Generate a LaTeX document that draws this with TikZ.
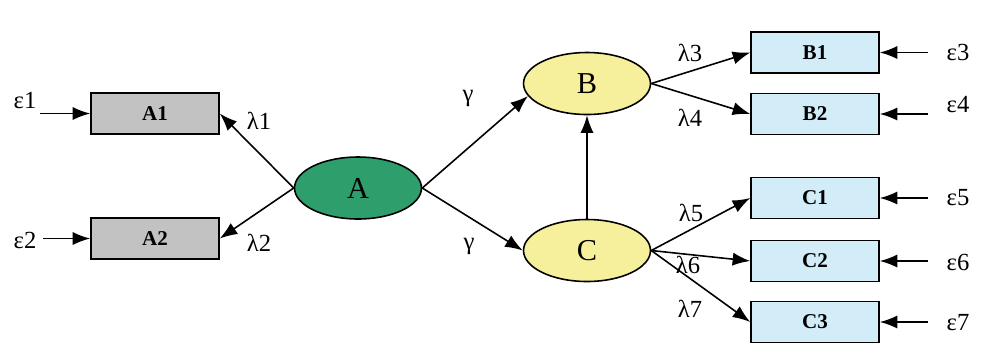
\documentclass[tikz,border=0pt]{standalone}
\usepackage{fontspec}
\setmainfont{Liberation Serif}
\usetikzlibrary{shapes.geometric,arrows.meta}

\definecolor{boxgrey}{HTML}{C2C2C2}
\definecolor{latgreen}{HTML}{2E9E6C}
\definecolor{latyellow}{HTML}{F6F09C}
\definecolor{boxblue}{HTML}{D2EDF7}

\tikzset{
	indicator/.style={draw, line width=0.9pt, minimum width=2.56cm, minimum height=0.82cm, inner sep=0pt, font=\large\bfseries},
	latent/.style={ellipse, draw, line width=0.9pt, minimum width=2.54cm, minimum height=1.24cm, inner sep=0pt, font=\LARGE},
	path/.style={line width=0.9pt, -{Latex[length=10pt,width=7.5pt]}},
	lbl/.style={font=\fontsize{14}{16}\selectfont, inner sep=0pt}
}

\begin{document}
\begin{tikzpicture}[x=0.02cm, y=-0.02cm]
		%%%%% START %%%%%
		\useasboundingbox (0, 0) rectangle (984, 346);
		
		% observed indicators
		\node[indicator, fill=boxgrey] (a1) at (155, 113.5) {A1};
		\node[indicator, fill=boxgrey] (a2) at (155, 238.5) {A2};
		\node[indicator, fill=boxblue] (b1) at (815, 52.5) {B1};
		\node[indicator, fill=boxblue] (b2) at (815, 114) {B2};
		\node[indicator, fill=boxblue] (c1) at (815, 198) {C1};
		\node[indicator, fill=boxblue] (c2) at (815, 261) {C2};
		\node[indicator, fill=boxblue] (c3) at (815, 322) {C3};
		
		% latent variables
		\node[latent, fill=latgreen] (a) at (358, 188) {A};
		\node[latent, fill=latyellow] (b) at (587, 83.5) {B};
		\node[latent, fill=latyellow] (c) at (587, 250.5) {C};
		
		% error terms
		\node[lbl] (e1) at (25, 100) {ε1};
		\node[lbl] (e2) at (25, 240) {ε2};
		\node[lbl] (e3) at (958, 52) {ε3};
		\node[lbl] (e4) at (958, 105) {ε4};
		\node[lbl] (e5) at (958, 198) {ε5};
		\node[lbl] (e6) at (958, 262) {ε6};
		\node[lbl] (e7) at (958, 323) {ε7};
		\coordinate (e1r) at (40, 113.5);
		\coordinate (e2r) at (43, 238.5);
		\coordinate (e3l) at (928, 52.5);
		\coordinate (e4l) at (928, 114);
		\coordinate (e5l) at (928, 198);
		\coordinate (e6l) at (928, 261);
		\coordinate (e7l) at (928, 322);
		
		\draw[path] (e1r) -- (a1.west);
		\draw[path] (e2r) -- (a2.west);
		\draw[path] (e3l) -- (b1.east);
		\draw[path] (e4l) -- (b2.east);
		\draw[path] (e5l) -- (c1.east);
		\draw[path] (e6l) -- (c2.east);
		\draw[path] (e7l) -- (c3.east);
		
		% structural paths
		\draw[path] (a.west) -- (a1.east);
		\draw[path] (a.west) -- (a2.east);
		\draw[path] (a.east) -- (b.192);
		\draw[path] (a.east) -- (c.west);
		\draw[path] (c.north) -- (b.south);
		\draw[path] (b.east) -- (b1.west);
		\draw[path] (b.east) -- (b2.west);
		\draw[path] (c.east) -- (c1.west);
		\draw[path] (c.east) -- (c2.west);
		\draw[path] (c.east) -- (c3.west);
		
		% loadings
		\node[lbl] (l1) at (259, 121) {λ1};
		\node[lbl] (l2) at (259, 243) {λ2};
		\node[lbl] (g1) at (468, 98) {γ};
		\node[lbl] (g2) at (469, 246) {γ};
		\node[lbl] (l3) at (690, 53) {λ3};
		\node[lbl] (l4) at (690, 118) {λ4};
		\node[lbl] (l5) at (691, 213) {λ5};
		\node[lbl] (l6) at (688, 265) {λ6};
		\node[lbl] (l7) at (690, 309) {λ7};
		
		%%%%% END %%%%%
	\end{tikzpicture}
\end{document}
